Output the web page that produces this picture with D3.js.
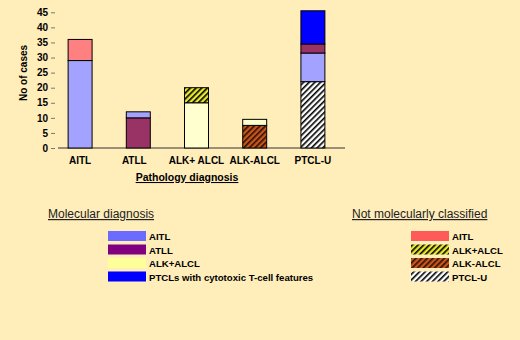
<!DOCTYPE html>
<html><head><meta charset="utf-8">
<script src="https://cdn.jsdelivr.net/npm/d3@7/dist/d3.min.js"></script>
<style>
html,body{margin:0;padding:0;background:#FFEDBA;}
svg{display:block;font-family:Arial,"Liberation Sans",sans-serif;}
</style></head><body>
<svg id="c" width="520" height="340"></svg>
<script>
// Data
const categories = ["AITL","ATLL","ALK+ ALCL","ALK-ALCL","PTCL-U"];
const seriesKeys = ["ptclU_nmc","alkNeg_nmc","aitl_mol","atll_mol","alkPos_mol","alkPos_nmc","aitl_nmc","cyto_mol"];
const ptclU_nmc   = [0, 0, 0, 0, 22];
const alkNeg_nmc  = [0, 0, 0, 7.5, 0];
const aitl_mol    = [29, 2, 0, 0, 9.5];
const atll_mol    = [0, 10, 0, 0, 3];
const alkPos_mol  = [0, 0, 15, 2, 0];
const alkPos_nmc  = [0, 0, 5, 0, 0];
const aitl_nmc    = [7, 0, 0, 0, 0];
const cyto_mol    = [0, 0, 0, 0, 11];
// stacking order (bottom to top) per bar
const stackOrder = [
  ["aitl_mol","aitl_nmc"],
  ["atll_mol","aitl_mol"],
  ["alkPos_mol","alkPos_nmc"],
  ["alkNeg_nmc","alkPos_mol"],
  ["ptclU_nmc","aitl_mol","atll_mol","cyto_mol"]
];
const yTicks = [0,5,10,15,20,25,30,35,40,45];
const molLegend = ["AITL","ATLL","ALK+ALCL","PTCLs with cytotoxic T-cell features"];
const nmcLegend = ["AITL","ALK+ALCL","ALK-ALCL","PTCL-U"];

const values = {ptclU_nmc, alkNeg_nmc, aitl_mol, atll_mol, alkPos_mol, alkPos_nmc, aitl_nmc, cyto_mol};
const fills = {ptclU_nmc:"url(#hBW)", alkNeg_nmc:"url(#hBrown)", aitl_mol:"#A3A3FF", atll_mol:"#993366",
  alkPos_mol:"#FFFFD0", alkPos_nmc:"url(#hYel)", aitl_nmc:"#FF8080", cyto_mol:"#0000FF"};

const svg = d3.select("#c");
const defs = svg.append("defs");
function hatch(id, bg, fg){
  const p = defs.append("pattern").attr("id",id).attr("patternUnits","userSpaceOnUse")
    .attr("width",4).attr("height",4).attr("patternTransform","rotate(45)");
  p.append("rect").attr("width",4).attr("height",4).attr("fill",bg);
  p.append("rect").attr("width",1.6).attr("height",4).attr("fill",fg);
}
hatch("hBW","#FFFFFF","#000000");
hatch("hBrown","#C8551E","#2a1000");
hatch("hYel","#E8E830","#000000");

const x = d3.scaleBand().domain(categories).range([51,342]).paddingInner(0.588).paddingOuter(0.294);
const y = d3.scaleLinear().domain([0,45]).range([148,12.3]);

const segs = [];
categories.forEach((c,i)=>{
  let base = 0;
  stackOrder[i].forEach(k=>{
    const v = values[k][i];
    if (v>0){ segs.push({cat:c, key:k, y0:base, y1:base+v}); base += v; }
  });
});

// axis
const ya = svg.append("g").attr("transform","translate(55,0)")
  .call(d3.axisLeft(y).tickValues(yTicks).tickSize(4).tickPadding(3));
ya.select(".domain").remove();
ya.selectAll(".tick line").attr("stroke","#777");
ya.selectAll("text").attr("font-size",10).attr("font-weight","bold").attr("fill","#000").attr("font-family","Arial, 'Liberation Sans', sans-serif");

svg.append("line").attr("x1",58).attr("x2",345).attr("y1",y(0)).attr("y2",y(0)).attr("stroke","#333").attr("stroke-width",1.2);

svg.append("g").selectAll("rect").data(segs).join("rect")
  .attr("x",d=>x(d.cat)).attr("width",x.bandwidth())
  .attr("y",d=>y(d.y1)).attr("height",d=>y(d.y0)-y(d.y1))
  .attr("fill",d=>fills[d.key]).attr("stroke","#000").attr("stroke-width",1);

// x labels
svg.append("g").selectAll("text").data(categories).join("text")
  .attr("x",d=>x(d)+x.bandwidth()/2 + (d==="ATLL"?-4:0)).attr("y",164)
  .attr("text-anchor","middle").attr("font-size",10).attr("font-weight","bold").text(d=>d);

svg.append("text").attr("x",187).attr("y",181).attr("text-anchor","middle")
  .attr("font-size",10.5).attr("font-weight","bold").attr("text-decoration","underline").text("Pathology diagnosis");

svg.append("text").attr("transform","translate(27,73) rotate(-90)").attr("text-anchor","middle")
  .attr("font-size",10).attr("font-weight","bold").text("No of cases");

// legends
function legend(x0, title, titleX, items, colors){
  svg.append("text").attr("x",titleX).attr("y",218).attr("font-size",12)
    .attr("text-decoration","underline").attr("fill","#222").text(title);
  const g = svg.append("g");
  items.forEach((t,i)=>{
    const yy = 231 + i*13.5;
    g.append("rect").attr("x",x0).attr("y",yy).attr("width",38).attr("height",10).attr("fill",colors[i]);
    g.append("text").attr("x",x0+41).attr("y",yy+9).attr("font-size",9.6).attr("font-weight","bold").text(t);
  });
}
legend(108,"Molecular diagnosis",48,molLegend,["#6B6BFF","#800080","#FFFF99","#0000FF"]);
legend(411,"Not molecularly classified",352,nmcLegend,["#FF5A5A","url(#hYel)","url(#hBrown)","url(#hBW)"]);
</script>
</body></html>
